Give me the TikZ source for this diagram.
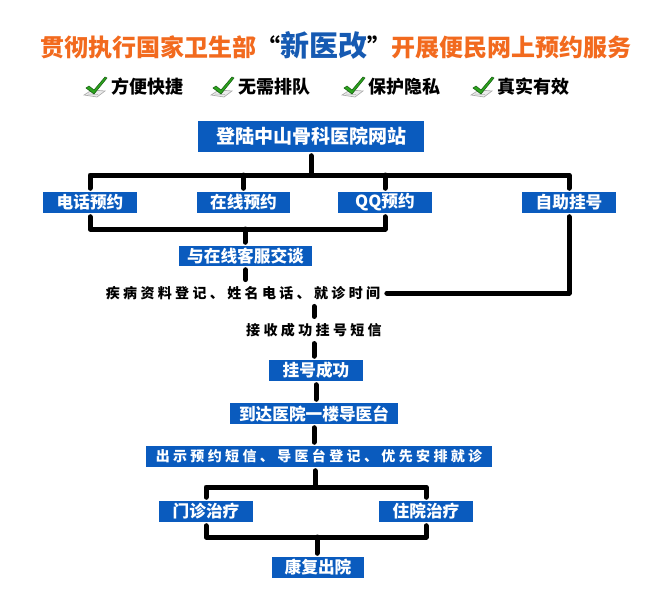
\documentclass[tikz,border=0pt]{standalone}
\usepackage{fontspec}
\setmainfont{Noto Sans CJK SC}
\newfontfamily\cjk{Noto Sans CJK SC}
\newfontfamily\cjksp{Noto Sans CJK SC}[LetterSpace=24]
\definecolor{boxblue}{RGB}{10,91,190}
\definecolor{ttlorange}{RGB}{242,106,30}
\definecolor{ttlblue}{RGB}{22,90,178}
\definecolor{chkgreen}{RGB}{45,165,30}
\definecolor{chkdark}{RGB}{20,90,15}
\tikzset{
  box/.style={fill=boxblue, text=white, font=\cjk\bfseries\fontsize{12.5pt}{14pt}\selectfont,
    minimum height=21*0.75pt, inner sep=0pt, outer sep=2.8pt},
  bw/.style={minimum width=#1*0.75pt},
  note/.style={font=\cjksp\bfseries\fontsize{10.5pt}{12pt}\selectfont, inner sep=0pt, outer sep=5pt},
  conn/.style={line width=3.75pt, line cap=round, line join=round},
  chk/.pic={
    \filldraw[fill=gray!15, draw=gray!65, line width=0.5pt] (-12,6) -- (-4,1) -- (9,2) -- (1,8) -- cycle;
    \draw[gray!60, line width=0.4pt] (-8,5) -- (2,5.5);
    \filldraw[fill=chkgreen, draw=chkdark, line width=0.4pt]
      (-10,-1) -- (-7,-3) -- (-2,1) -- (9,-12) -- (11,-11) -- (-2,5) -- cycle;
  }
}
\begin{document}
\begin{tikzpicture}[x=0.75pt,y=-0.75pt]
\useasboundingbox (0,0) rectangle (660,594);

% title
\node[inner sep=0pt, font=\cjk\bfseries] (title) at (336,45)
  {\fontsize{18pt}{20pt}\selectfont\color{ttlorange}贯彻执行国家卫生部{\color{black}“}{\color{ttlblue}\fontsize{21.75pt}{22pt}\selectfont 新医改}{\color{black}”}开展便民网上预约服务};

% check row
\pic at (96,89) {chk};
\pic at (223,89) {chk};
\pic at (354,89) {chk};
\pic at (483,89) {chk};
\tikzset{ck/.style={anchor=west, inner sep=0pt, font=\cjk\bfseries\fontsize{13.5pt}{15pt}\selectfont}}
\node[ck] (c1) at (111,87) {方便快捷};
\node[ck] (c2) at (238,87) {无需排队};
\node[ck] (c3) at (368,87) {保护隐私};
\node[ck] (c4) at (497,87) {真实有效};

% boxes
\node[box, bw=226, minimum height=31*0.75pt, font=\cjk\bfseries\fontsize{14.25pt}{16pt}\selectfont] (top) at (311,136.5) {登陆中山骨科医院网站};
\node[box, bw=94] (dh) at (90,202.5) {电话预约};
\node[box, bw=93] (zx) at (243.5,202.5) {在线预约};
\node[box, bw=94] (qq) at (385,202.5) {QQ预约};
\node[box, bw=94] (zz) at (569,202.5) {自助挂号};
\node[box, bw=133, minimum height=20*0.75pt] (kf) at (245.5,256) {与在线客服交谈};
\node[note] (t1) at (243,293) {疾病资料登记、姓名电话、就诊时间};
\node[note] (t2) at (314,330) {接收成功挂号短信};
\node[box, bw=94] (gh) at (316,370.5) {挂号成功};
\node[box, bw=168] (dd) at (314,413.5) {到达医院一楼导医台};
\node[box, bw=346, font=\cjksp\bfseries\fontsize{10.5pt}{12pt}\selectfont] (cs) at (319,456.5) {出示预约短信、导医台登记、优先安排就诊};
\node[box, bw=94] (mz) at (206,511.5) {门诊治疗};
\node[box, bw=94] (zy) at (426,511.5) {住院治疗};
\node[box, bw=92] (kx) at (318,567.5) {康复出院};

% bars
\coordinate (b1) at (311,175);
\coordinate (b2) at (245,229);
\coordinate (b3) at (315,487);
\coordinate (b4) at (317,537);

% connectors
\draw[conn] (top.south) -- (b1);
\draw[conn] (dh.north) |- (b1) -| (zz.north);
\draw[conn] (zx.north) -- (zx.north |- b1);
\draw[conn] (qq.north) -- (qq.north |- b1);
\draw[conn] (dh.south) |- (b2) -| (qq.south);
\draw[conn] (b2) -- (b2 |- kf.north);
\draw[conn] (kf.south) -- (kf.south |- t1.north);
\draw[conn] (zz.south) |- (t1.east);
\draw[conn] (t2.north |- t1.south) -- (t2.north);
\draw[conn] (t2.south) -- (t2.south |- gh.north);
\draw[conn] (gh.south) -- (gh.south |- dd.north);
\draw[conn] (dd.south) -- (dd.south |- cs.north);
\draw[conn] (b3 |- cs.south) -- (b3);
\draw[conn] (mz.north) |- (b3) -| (zy.north);
\draw[conn] (mz.south) |- (b4) -| (zy.south);
\draw[conn] (b4) -- (b4 |- kx.north);
\end{tikzpicture}
\end{document}
